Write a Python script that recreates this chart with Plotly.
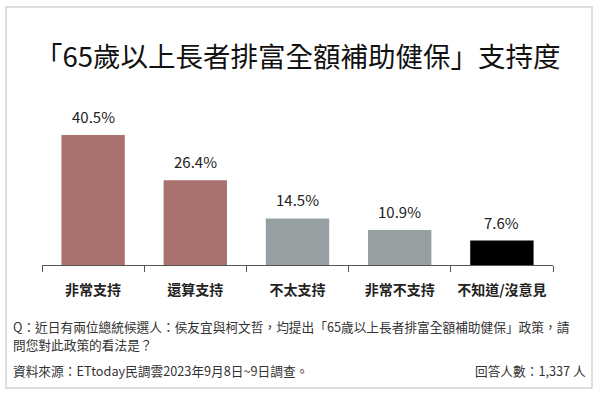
import plotly.graph_objects as go

categories = ["非常支持", "還算支持", "不太支持", "非常不支持", "不知道/沒意見"]
values = [40.5, 26.4, 14.5, 10.9, 7.6]
value_labels = ["40.5%", "26.4%", "14.5%", "10.9%", "7.6%"]

title_text = "「65歲以上長者排富全額補助健保」支持度"
question_lines = [
    "Q：近日有兩位總統候選人：侯友宜與柯文哲，均提出「65歲以上長者排富全額補助健保」政策，請",
    "問您對此政策的看法是？",
]
source_text = "資料來源：ETtoday民調雲2023年9月8日~9日調查。"
sample_text = "回答人數：1,337 人"

bar_colors = ["#A9726F", "#A9726F", "#96A0A3", "#96A0A3", "#000000"]
FONT = "Noto Sans CJK TC"

W, H = 600, 400
L, R, T, B = 42, 47, 100, 135
pw, ph = W - L - R, H - T - B


def px(x):
    return (x - L) / pw


def py(y):
    return (H - B - y) / ph


fig = go.Figure()
fig.add_trace(go.Bar(
    x=categories, y=values,
    marker=dict(color=bar_colors, line=dict(width=0)),
    hoverinfo="skip",
))

annotations = []
for c, v, t in zip(categories, values, value_labels):
    annotations.append(dict(
        x=c, y=v, xref="x", yref="y", text=t, showarrow=False,
        yanchor="bottom", yshift=6,
        font=dict(family=FONT, size=15, color="#222222"),
    ))

annotations.append(dict(
    x=px(298), y=py(55), xref="paper", yref="paper", text=title_text,
    showarrow=False, xanchor="center", yanchor="middle",
    font=dict(family=FONT, size=27.5, color="#111111"),
))
for i, line in enumerate(question_lines):
    annotations.append(dict(
        x=px(11), y=py(326 + 18.6 * i), xref="paper", yref="paper", text=line,
        showarrow=False, xanchor="left", yanchor="middle", align="left",
        font=dict(family=FONT, size=12.7, color="#333333"),
    ))
annotations.append(dict(
    x=px(11), y=py(370), xref="paper", yref="paper", text=source_text,
    showarrow=False, xanchor="left", yanchor="middle",
    font=dict(family=FONT, size=12.7, color="#333333"),
))
annotations.append(dict(
    x=px(588), y=py(370), xref="paper", yref="paper", text=sample_text,
    showarrow=False, xanchor="right", yanchor="middle",
    font=dict(family=FONT, size=12.7, color="#333333"),
))

fig.update_layout(
    width=W, height=H,
    margin=dict(l=L, r=R, t=T, b=B, pad=0),
    paper_bgcolor="white", plot_bgcolor="white",
    showlegend=False,
    bargap=0.38,
    annotations=annotations,
    shapes=[dict(
        type="rect", xref="paper", yref="paper",
        x0=px(6), x1=px(592), y0=py(388), y1=py(7),
        line=dict(color="#D4D4D4", width=1.5), fillcolor="rgba(0,0,0,0)",
        layer="below",
    )],
    xaxis=dict(
        type="category", range=[-0.5, 4.5],
        showline=True, linecolor="#555555", linewidth=1,
        ticks="outside", tickson="boundaries", ticklen=6,
        tickcolor="#555555", tickwidth=1,
        ticklabelstandoff=12,
        tickfont=dict(family=FONT, size=14, color="#222222", weight="bold"),
        showgrid=False, zeroline=False,
    ),
    yaxis=dict(
        range=[0, ph / 3.21], visible=False, showgrid=False, zeroline=False,
    ),
)

fig.write_html("out.html")
